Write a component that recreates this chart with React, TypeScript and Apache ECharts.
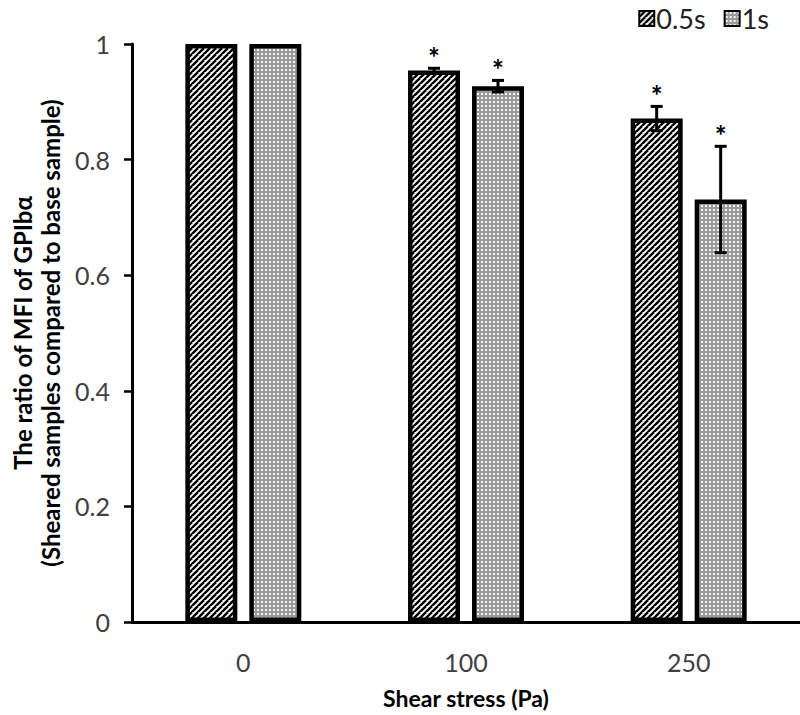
import React, { useEffect, useRef } from 'react';
import * as echarts from 'echarts';

const categories = ['0', '100', '250'];
const seriesNames = ['0.5s', '1s'];
const values05 = [1, 0.954, 0.871];
const values1 = [1, 0.927, 0.731];
const errors05 = [0, 0.004, 0.021];
const errors1 = [0, 0.01, 0.092];
const significant05 = [false, true, true];
const significant1 = [false, true, true];
const yAxisTitle = 'The ratio of MFI of GPIbα\n(Sheared samples compared to base sample)';
const xAxisTitle = 'Shear stress (Pa)';

const FONT = 'Lato, "Open Sans", sans-serif';
const BAR_WIDTH = 52;
const BAR_GAP_PX = 12;

function makeHatch(): string {
  const c = document.createElement('canvas');
  c.width = 6; c.height = 6;
  const ctx = c.getContext('2d')!;
  ctx.fillStyle = '#ffffff';
  ctx.fillRect(0, 0, 6, 6);
  ctx.strokeStyle = '#000000';
  ctx.lineWidth = 2.4;
  for (let k = -6; k <= 12; k += 6) {
    ctx.beginPath();
    ctx.moveTo(k - 6, 12);
    ctx.lineTo(k + 6, 0);
    ctx.stroke();
  }
  return c.toDataURL();
}

function makeDots(): string {
  const c = document.createElement('canvas');
  c.width = 4; c.height = 4;
  const ctx = c.getContext('2d')!;
  ctx.fillStyle = '#9a9a9a';
  ctx.fillRect(0, 0, 4, 4);
  ctx.fillStyle = '#f4f4f4';
  ctx.fillRect(1, 1, 2, 2);
  return c.toDataURL();
}

export default function App() {
  const ref = useRef<HTMLDivElement>(null);

  useEffect(() => {
    if (!ref.current) return;
    const chart = echarts.init(ref.current, undefined, { renderer: 'svg' });
    const hatch = { image: makeHatch(), repeat: 'repeat', imageWidth: 6, imageHeight: 6 } as any;
    const dots = { image: makeDots(), repeat: 'repeat', imageWidth: 4, imageHeight: 4 } as any;
    const offset = (BAR_WIDTH + BAR_GAP_PX) / 2;

    const errSeries = (vals: number[], errs: number[], sig: boolean[], dx: number) => ({
      type: 'custom',
      z: 10,
      silent: true,
      encode: { x: 0, y: 1 },
      data: vals.map((v, i) => [i, v, errs[i], sig[i] ? 1 : 0]),
      renderItem: (params: any, api: any) => {
        const i = api.value(0);
        const v = api.value(1);
        const e = api.value(2);
        const s = api.value(3);
        const top = api.coord([i, v + e]);
        const bot = api.coord([i, v - e]);
        const x = top[0] + dx;
        const children: any[] = [];
        const st = { stroke: '#000', lineWidth: 3 };
        if (e > 0) {
          children.push({ type: 'line', shape: { x1: x, y1: top[1], x2: x, y2: bot[1] }, style: st });
          children.push({ type: 'line', shape: { x1: x - 6, y1: top[1], x2: x + 6, y2: top[1] }, style: st });
          children.push({ type: 'line', shape: { x1: x - 6, y1: bot[1], x2: x + 6, y2: bot[1] }, style: st });
        }
        if (s) {
          children.push({
            type: 'text',
            style: {
              x, y: top[1] - 11, text: '*', fill: '#000',
              font: `bold 28px ${FONT}`, align: 'center', verticalAlign: 'middle',
            },
          });
        }
        return { type: 'group', children };
      },
    });

    chart.setOption({
      animation: false,
      backgroundColor: '#ffffff',
      textStyle: { fontFamily: FONT },
      legend: {
        data: seriesNames,
        right: 26,
        top: 0,
        itemWidth: 15,
        itemHeight: 15,
        itemGap: 18,
        icon: 'rect',
        textStyle: { fontSize: 27, color: '#222', fontFamily: FONT, padding: [0, 0, 0, -3] },
      },
      grid: { left: 132, right: 0, top: 44, bottom: 93, containLabel: false },
      xAxis: {
        type: 'category',
        data: categories,
        axisLine: { lineStyle: { color: '#000', width: 3 } },
        axisTick: { show: false },
        axisLabel: { margin: 27, fontSize: 25, color: '#404040', fontFamily: FONT },
        name: xAxisTitle,
        nameLocation: 'middle',
        nameGap: 64,
        nameTextStyle: { fontSize: 23, fontWeight: 'bold', color: '#000', fontFamily: FONT },
      },
      yAxis: {
        type: 'value',
        min: 0,
        max: 1,
        interval: 0.2,
        splitLine: { show: false },
        axisLine: { show: true, lineStyle: { color: '#000', width: 3 } },
        axisTick: { show: true, length: 8, lineStyle: { color: '#000', width: 2.5 } },
        axisLabel: { margin: 22, fontSize: 25, color: '#404040', fontFamily: FONT, formatter: (v: number) => String(Math.round(v * 10) / 10) },
        name: yAxisTitle,
        nameLocation: 'middle',
        nameGap: 68,
        nameTextStyle: { fontSize: 24, fontWeight: 'bold', color: '#000', lineHeight: 28, fontFamily: FONT },
      },
      series: [
        {
          name: seriesNames[0],
          type: 'bar',
          data: values05,
          barWidth: BAR_WIDTH,
          barGap: `${(BAR_GAP_PX / BAR_WIDTH) * 100}%`,
          itemStyle: { color: hatch, borderColor: '#000', borderWidth: 4.5 },
        },
        {
          name: seriesNames[1],
          type: 'bar',
          data: values1,
          barWidth: BAR_WIDTH,
          barGap: `${(BAR_GAP_PX / BAR_WIDTH) * 100}%`,
          itemStyle: { color: dots, borderColor: '#000', borderWidth: 4.5 },
        },
        errSeries(values05, errors05, significant05, -offset),
        errSeries(values1, errors1, significant1, offset),
      ],
    });
    return () => chart.dispose();
  }, []);

  return <div ref={ref} style={{ width: 800, height: 715, position: 'absolute', left: 0, top: 0 }} />;
}
